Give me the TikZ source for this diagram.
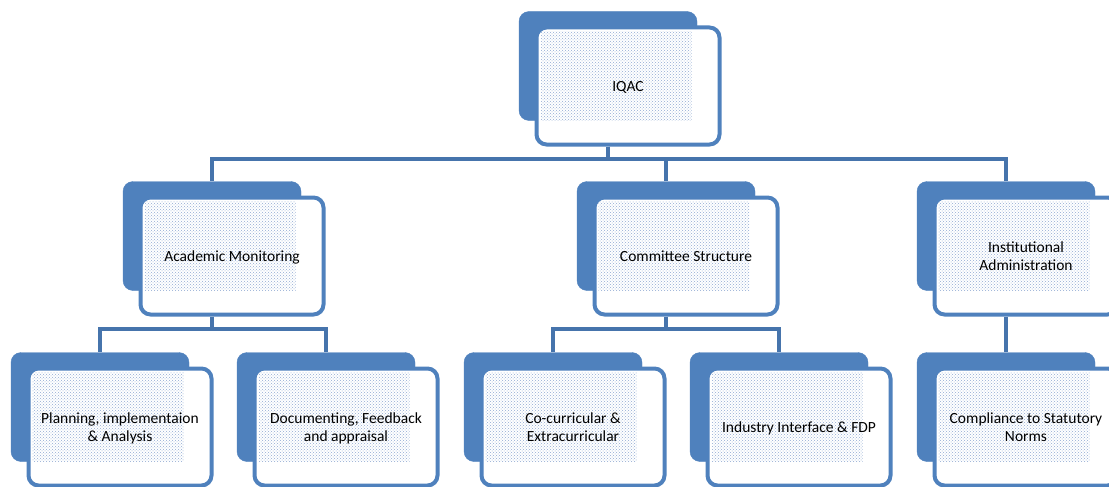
\documentclass[tikz,border=0pt]{standalone}
\usepackage{fontspec}
\setmainfont{Carlito}
\usetikzlibrary{patterns}
\definecolor{boxblue}{RGB}{79,129,189}
\definecolor{linkblue}{RGB}{70,116,172}
\definecolor{dotblue}{RGB}{145,170,210}
\def\stackbox(#1,#2)#3#4{\node[back] (#3b) at (#1,#2) {};
	\node[front] (#3) at (#1+20,#2+20) {#4};}

\begin{document}
\begin{tikzpicture}[x=1pt, y=-1pt,
	back/.style={rounded corners=10pt, fill=boxblue, draw=boxblue, minimum width=178pt, minimum height=109pt, inner sep=0pt},
	front/.style={rounded corners=10pt, draw=boxblue, line width=4pt, fill=white, minimum width=183pt, minimum height=117pt,
		align=center, font=\fontsize{15.5}{18}\selectfont, text depth=0pt,
		path picture={\fill[sharp corners, pattern=crosshatch dots, pattern color=dotblue]
			([shift={(4,4)}]path picture bounding box.north west) rectangle ([shift={(-28,-24)}]path picture bounding box.south east);}},
	conn/.style={draw=linkblue, line width=4pt}]
			%%%%% START %%%%%
			\useasboundingbox (0,0) rectangle (1109,487);
			
			\stackbox(608,66){iqac}{IQAC}
			
			\stackbox(212,236){acad}{Academic Monitoring}
			\stackbox(666,236){comm}{Committee Structure}
			\stackbox(1006,236){inst}{Institutional\\Administration}
			
			\stackbox(100,407){plan}{Planning, implementaion\\\& Analysis}
			\stackbox(326,407){docu}{Documenting, Feedback\\and appraisal}
			\stackbox(553,407){cocu}{Co-curricular \&\\Extracurricular}
			\stackbox(779,407){indu}{Industry Interface \& FDP}
			\stackbox(1006,407){comp}{Compliance to Statutory\\Norms}
			
			\foreach \kid in {acadb,commb,instb}
				\draw[conn] (iqacb |- iqac.south) -- ++(0,12) -| (\kid.north);
			\foreach \kid in {planb,docub}
				\draw[conn] (acadb |- acad.south) -- ++(0,12) -| (\kid.north);
			\foreach \kid in {cocub,indub}
				\draw[conn] (commb |- comm.south) -- ++(0,12) -| (\kid.north);
			\draw[conn] (instb |- inst.south) -- (compb.north);
			
			%%%%% END %%%%%
\end{tikzpicture}
\end{document}
